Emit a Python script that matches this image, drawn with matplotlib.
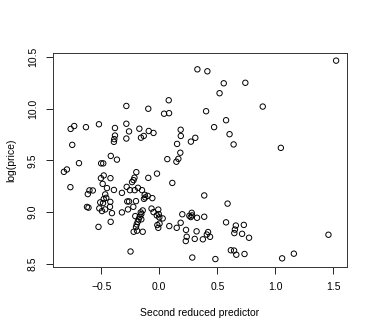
import matplotlib
matplotlib.use("Agg")
import matplotlib.pyplot as plt

predictor = [
    1.523, 0.328, 0.414, 0.555, 0.741, 0.519, 0.081, -0.284, -0.095, 0.041,
    0.084, 0.403, 0.891, 0.575, 0.472, 0.605, 0.640, 1.047, -0.764, -0.733,
    -0.632, -0.520, -0.382, -0.284, -0.261, -0.172, -0.091, -0.050, -0.382, -0.388,
    -0.391, -0.284, -0.158, -0.134, -0.750, 0.184, 0.185, 0.153, 0.272, 0.310,
    0.181, 0.069, 0.147, 0.164, -0.418, -0.365, -0.692, -0.501, -0.483, -0.822,
    -0.796, -0.198, -0.020, -0.479, -0.503, -0.421, -0.214, -0.222, -0.235, -0.095,
    0.112, -0.766, -0.488, -0.451, -0.391, -0.322, -0.602, -0.573, -0.616, -0.466,
    -0.457, -0.479, -0.509, -0.485, -0.422, -0.517, -0.466, -0.425, -0.623, -0.610,
    -0.494, -0.408, -0.276, -0.261, -0.281, -0.253, -0.212, -0.184, -0.149, -0.201,
    -0.126, -0.100, -0.132, -0.121, -0.060, -0.224, -0.270, -0.322, -0.067, -0.009,
    -0.143, -0.160, -0.155, -0.207, -0.169, -0.178, -0.186, -0.195, -0.201, -0.155,
    -0.050, -0.022, -0.005, 0.000, 0.029, -0.017, 0.002, -0.009, -0.221, -0.192,
    -0.143, -0.524, -0.419, -0.248, 0.387, 0.588, 0.086, 0.150, 0.184, 0.198,
    0.279, 0.259, 0.271, 0.282, 0.325, 0.387, 0.230, 0.321, 0.420, 0.409,
    0.437, 0.375, 0.236, 0.228, 0.305, 0.575, 0.659, 0.728, 0.651, 0.646,
    0.713, 0.773, 1.457, 0.616, 0.644, 0.663, 0.734, 0.284, 0.483, 1.058,
    1.159,
]

log_price = [
    10.463, 10.379, 10.360, 10.244, 10.249, 10.148, 10.080, 10.025, 9.998, 9.950,
    9.955, 9.974, 10.019, 9.887, 9.820, 9.752, 9.653, 9.620, 9.803, 9.831,
    9.820, 9.848, 9.812, 9.853, 9.779, 9.805, 9.783, 9.764, 9.739, 9.704,
    9.678, 9.710, 9.718, 9.735, 9.649, 9.795, 9.735, 9.658, 9.680, 9.717,
    9.573, 9.511, 9.486, 9.514, 9.542, 9.506, 9.472, 9.470, 9.470, 9.388,
    9.411, 9.385, 9.371, 9.353, 9.327, 9.327, 9.332, 9.308, 9.289, 9.330,
    9.281, 9.240, 9.272, 9.231, 9.213, 9.185, 9.209, 9.208, 9.173, 9.170,
    9.137, 9.125, 9.093, 9.086, 9.098, 9.035, 9.025, 9.050, 9.049, 9.042,
    9.009, 8.989, 9.102, 9.102, 9.243, 9.211, 9.211, 9.234, 9.211, 9.105,
    9.166, 9.156, 9.127, 9.141, 9.134, 9.050, 9.025, 8.996, 9.033, 9.023,
    9.015, 8.996, 8.980, 8.960, 8.954, 8.929, 8.905, 8.880, 8.854, 8.929,
    8.999, 8.967, 8.980, 8.948, 8.938, 8.874, 8.888, 8.847, 8.809, 8.819,
    8.809, 8.856, 8.905, 8.618, 9.160, 9.081, 8.864, 8.847, 8.896, 8.978,
    8.992, 8.963, 8.951, 8.967, 8.944, 8.954, 8.827, 8.813, 8.806, 8.782,
    8.760, 8.736, 8.761, 8.719, 8.740, 8.900, 8.869, 8.875, 8.830, 8.796,
    8.789, 8.751, 8.780, 8.630, 8.627, 8.587, 8.594, 8.560, 8.545, 8.552,
    8.597,
]

x_ticks = [-0.5, 0.0, 0.5, 1.0, 1.5]
y_ticks = [8.5, 9.0, 9.5, 10.0, 10.5]
x_label = "Second reduced predictor"
y_label = "log(price)"

plt.rcParams['font.family'] = ['Liberation Sans', 'DejaVu Sans']

fig = plt.figure(figsize=(3.74, 3.33), dpi=100)
ax = fig.add_axes([53/374, 66/333, 294/374, 214.3/333])

ax.scatter(predictor, log_price, s=15, facecolors='none', edgecolors='black', linewidths=0.7)

# R-style 4% padding
xmin, xmax = min(predictor), max(predictor)
ymin, ymax = min(log_price), max(log_price)
dx = (xmax - xmin) * 0.04
dy = (ymax - ymin) * 0.04
ax.set_xlim(xmin - dx, xmax + dx)
ax.set_ylim(ymin - dy, ymax + dy)

ax.set_xticks(x_ticks)
ax.set_xticklabels([("%.1f" % v).replace("-", "\u2212") for v in x_ticks])
ax.set_yticks(y_ticks)
ax.set_yticklabels(["%.1f" % v for v in y_ticks], rotation=90, va='center')

ax.tick_params(axis='both', direction='out', length=5, width=0.6, labelsize=7.5, colors='black', pad=6)
for sp in ax.spines.values():
    sp.set_linewidth(0.7)
    sp.set_color('#333333')

ax.set_xlabel(x_label, fontsize=7.5, labelpad=11)
ax.set_ylabel(y_label, fontsize=7.5, labelpad=8)

fig.savefig("out.png", dpi=100)
